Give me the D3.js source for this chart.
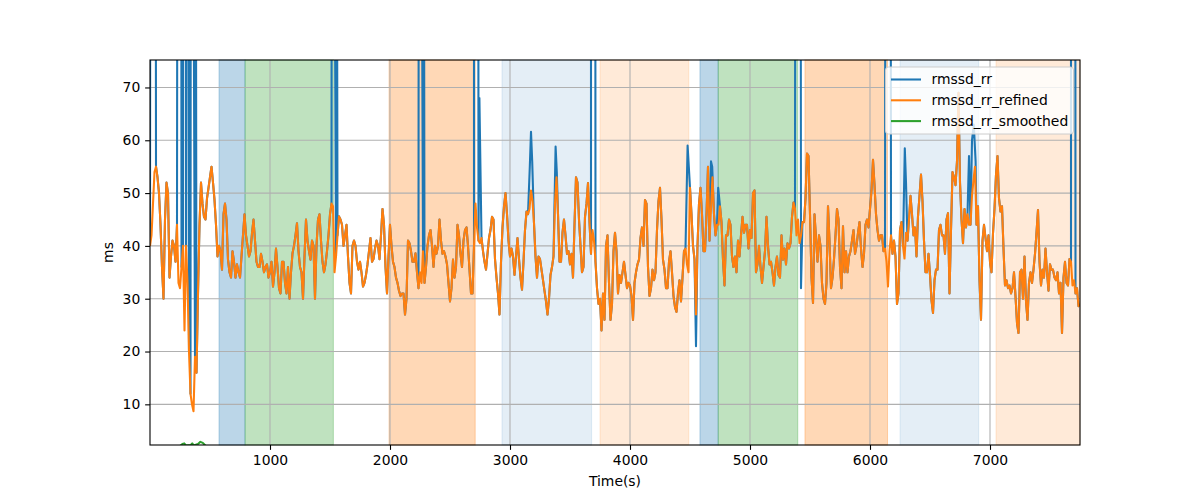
<!DOCTYPE html>
<html>
<head>
<meta charset="utf-8">
<script src="https://cdn.jsdelivr.net/npm/d3@7"></script>
<style>
  body { margin: 0; background: #fff; }
  text { font-family: "DejaVu Sans", sans-serif; }
</style>
</head>
<body>
<div id="chart"></div>
<script>
// refined series: one value every 12.5 s starting at t = 0
const sampleStart = 0;
const sampleStep = 12.5;
const refinedValues = [
  // 0 .. 1112 s
  40,42,48,54,55,53,50,44,36,30, 45,52,50,34,38,41,40,37,44,33, 32,36,40,24,40,33,20,12,10,8.7,
  19,16,31,44,52,48,45.5,45,49,51, 53,55,52,48.7,44,38,40,39,35.5,46, 48,45,37.4,35,34,39,37,34,36.5,35,
  34,38,42,46,42,40,38,39,42.4,45, 41,37,36,36,38.5,37,35,36,36.5,34, 35,37,32.3,35,39.5,36,32,31,37,37,
  // 1125 .. 2237 s
  33,31,36,30,35,38.6,40,42,44.3,39, 36,35,30,38,45,41,39,37.4,41,40, 30,40,45,46,41,37,35,36.5,39,42,
  46,48,47.5,35,38,42,45.6,45,44,40, 42,44,38,33,31,40,41,40,37,35.5, 37,35,32.3,33,34.5,36.5,39,41.5,37,37.5,
  39.5,41,40,37.5,42,47,44,36,31,38, 44,40,37,36,34,33,31.5,30.5,31,31, 27,30,41,40.5,39,37,37,38.6,35,32,
  // 2250 .. 3362 s
  35,33,39,33,36,40,42,43,40,36, 40,38.5,40,45,41,38.5,39,38,36.5,33, 29.5,32,37.4,34,36,44,42,38.5,36,41,
  43,43.5,40,35.5,31,31,40,48,43.5,41, 40.5,41.5,39,37,35.5,38.5,41.5,43,45.5,45, 37.5,34,31,27,37,43.5,47.5,50,46,41,
  38,39.5,38,34.5,38,41.5,37.5,34,31.7,37, 43,46.5,46,47,50.5,48.5,44.3,38,34,38, 37.5,35.5,33.5,31.5,29.5,27,30,34.5,36,38,
  // 3375 .. 4487 s
  48,53,46,37,37,42.5,45,42,38.5,39, 36.5,38.5,34,44,53,52,45,40,35,36, 45.5,48,51.9,44.5,38.5,43,41,37,32,29,
  30,24,31,26,40,42,33,26,29,39, 42.5,39,31,34.5,33,35,37,34.5,32,33, 32.5,30.5,26,33,35,36.5,37.4,41.5,43.5,40,
  48.7,48,36,30.5,32,35.5,33.5,35,43,48.5, 51,45,37.4,35.5,32,32,37,39,35,30.5, 28.4,27.5,31,33.5,29.5,34,39,39.5,36.5,35,
  // 4500 .. 5612 s
  51,46,40,37.5,27,40,48,51,46,39, 39,46,55,41,47,53,46,42,44,44, 47.5,44.5,37.4,32.5,42,42,45,44,38,36,
  38,35,41,38,42,45.5,42.5,44,44,39.5, 43,41.5,50,50.5,35,36.5,40,36,33,36, 39,45.5,40,36.5,37,35,32.5,36,38,34.5,
  34,42,37.4,39.5,36.5,40.5,39.5,40.5,45.5,48.2, 47,42,45,40.5,42,44.5,44.5,49,57.5,57, 46,34,29.2,46,41.5,37,42,40,33,30,
  // 5625 .. 6737 s
  29,33,47.5,41,32,34,37.5,42,47,45, 36,32,43.7,35,39,35,38,39,41,43, 38.5,40,42.4,44.5,39.5,36,38.5,44,45,43.5,
  47,50.5,56.3,51.5,46,43,41,42,42,39, 39.5,37,32.3,39,42,38.5,41,38,29,31, 43,44.5,40,37.6,42.5,41,45,49.5,46,42,
  43.5,38,45.6,49.5,53.5,48.5,41,35,35,38.5, 34.5,29.7,27.3,33.5,35.5,35.5,43,44,42,42, 38.5,45,46.2,31,43,54,53,51.5,56,69,
  // 6750 .. 7750 s
  52,45,40.5,47,43.5,46,44,44,49.5,52.5, 55,44,47.5,33.5,26,41,44,41.5,39,42, 37,35,42.4,47,53.5,57,49,46.5,47.5,39.5,
  32.5,33.5,32,32.5,31,32,35,30.5,25.4,23.5, 35,35.5,30,38,29.5,26,33,35,33,35.5, 38.5,42.5,46.8,37,32.5,35.5,34,39.5,35,31.5,
  36.5,35.5,35.5,34,33.5,35,31,33,23.5,34, 37,33,32.5,37.5,37,32.5,33.5,31,32,28.6, 29
];

// raw series: excursions far above the axis (start / end time, height)
const spikeStart  = [8, 233, 275, 308, 342, 1517, 2242, 2700, 3675, 5383, 6133, 7675];
const spikeEnd    = [42, 258, 292, 325, 375, 1550, 2275, 2733, 3708, 5417, 6167, 7708];
const spikeHeight = [260, 220, 240, 250, 230, 210, 240, 230, 220, 250, 230, 240];
// raw series: places where it leaves the refined curve but stays on the axis
const bumpTimes  = [2745, 3165, 3175, 3185, 3380, 3390, 4480, 4490, 4550, 4675, 4685, 4735, 5425, 6290, 6300, 6825, 6850, 6865, 6880];
const bumpValues = [68, 55, 61.6, 56, 58.8, 54, 59, 55, 21, 56, 55, 51, 32, 58.5, 52, 57, 60, 63, 56];

// smoothed series (mostly under the lower limit)
const smoothTimes  = [0, 100, 200, 250, 270, 285, 300, 340, 352, 365, 400, 420, 440, 470, 600, 1500, 3000, 4500, 6000, 7750];
const smoothValues = [1.2, 1.5, 1.9, 2.1, 2.5, 2.6, 2.2, 2.3, 2.6, 2.2, 2.5, 2.9, 2.7, 2.0, 1.6, 1.4, 1.3, 1.4, 1.3, 1.2];

// shaded phases
const phaseStart = [575, 792, 1992, 2933, 3750, 4583, 4735, 5458, 6250, 7050];
const phaseEnd   = [792, 1528, 2710, 3680, 4490, 4735, 5398, 6146, 6906, 7750];
const phaseKind  = ["A", "B", "C", "D", "E", "A", "B", "C", "D", "E"];

const xTicks = [1000, 2000, 3000, 4000, 5000, 6000, 7000];
const yTicks = [10, 20, 30, 40, 50, 60, 70];
const seriesNames = ["rmssd_rr", "rmssd_rr_refined", "rmssd_rr_smoothed"];

const phaseStyle = {
  A: { color: "#1f77b4", alpha: 0.3 },
  B: { color: "#2ca02c", alpha: 0.3 },
  C: { color: "#ff7f0e", alpha: 0.3 },
  D: { color: "#1f77b4", alpha: 0.12 },
  E: { color: "#ff7f0e", alpha: 0.16 }
};
const lineColors = ["#1f77b4", "#ff7f0e", "#2ca02c"];

const width = 1200, height = 500;
const margin = { top: 60, right: 120, bottom: 55, left: 150 };
const innerW = width - margin.left - margin.right;
const innerH = height - margin.top - margin.bottom;

const refined = refinedValues.map((v, i) => ({ t: sampleStart + i * sampleStep, v: v }));

// build raw series from refined + spikes + bumps
let raw = refined.filter(d => {
  for (let k = 0; k < spikeStart.length; k++) {
    if (d.t > spikeStart[k] && d.t < spikeEnd[k]) return false;
  }
  for (let k = 0; k < bumpTimes.length; k++) {
    if (Math.abs(d.t - bumpTimes[k]) < 6) return false;
  }
  return true;
});
spikeStart.forEach((s, k) => {
  raw.push({ t: s, v: spikeHeight[k] });
  raw.push({ t: spikeEnd[k], v: spikeHeight[k] });
});
bumpTimes.forEach((t, k) => raw.push({ t: t, v: bumpValues[k] }));
raw.sort((a, b) => a.t - b.t);

const smoothed = smoothTimes.map((t, i) => ({ t: t, v: smoothValues[i] }));

const x = d3.scaleLinear().domain([0, 7750]).range([0, innerW]);
const y = d3.scaleLinear().domain([2.3, 75.2]).range([innerH, 0]);

const svg = d3.select("#chart").append("svg")
    .attr("width", width)
    .attr("height", height);

svg.append("defs").append("clipPath")
    .attr("id", "plotclip")
  .append("rect")
    .attr("width", innerW)
    .attr("height", innerH);

const g = svg.append("g")
    .attr("transform", "translate(" + margin.left + "," + margin.top + ")");

// phase spans
g.append("g").attr("class", "phases")
  .selectAll("rect")
  .data(phaseStart.map((s, i) => ({ s: s, e: phaseEnd[i], k: phaseKind[i] })))
  .enter().append("rect")
    .attr("x", d => x(d.s))
    .attr("y", 0)
    .attr("width", d => x(d.e) - x(d.s))
    .attr("height", innerH)
    .style("fill", d => phaseStyle[d.k].color)
    .style("fill-opacity", d => phaseStyle[d.k].alpha)
    .style("stroke", d => phaseStyle[d.k].color)
    .style("stroke-opacity", d => phaseStyle[d.k].alpha)
    .style("stroke-width", 1);

// grid
const grid = g.append("g").attr("class", "grid");
grid.selectAll("line.gx")
  .data(xTicks).enter().append("line")
    .attr("class", "gx")
    .attr("x1", d => x(d)).attr("x2", d => x(d))
    .attr("y1", 0).attr("y2", innerH)
    .style("stroke", "#b0b0b0").style("stroke-width", 1.1);
grid.selectAll("line.gy")
  .data(yTicks).enter().append("line")
    .attr("class", "gy")
    .attr("x1", 0).attr("x2", innerW)
    .attr("y1", d => y(d)).attr("y2", d => y(d))
    .style("stroke", "#b0b0b0").style("stroke-width", 1.1);

// lines
const line = d3.line().x(d => x(d.t)).y(d => y(d.v));
const lines = g.append("g").attr("clip-path", "url(#plotclip)");
[raw, refined, smoothed].forEach((data, i) => {
  lines.append("path")
    .datum(data)
    .attr("d", line)
    .style("fill", "none")
    .style("stroke", lineColors[i])
    .style("stroke-width", 2.08)
    .style("stroke-linejoin", "round");
});

// axes
const xAxis = g.append("g")
    .attr("transform", "translate(0," + innerH + ")")
    .call(d3.axisBottom(x).tickValues(xTicks).tickSize(4.86).tickPadding(4.86).tickFormat(d3.format("d")));
const yAxis = g.append("g")
    .call(d3.axisLeft(y).tickValues(yTicks).tickSize(4.86).tickPadding(4.86).tickFormat(d3.format("d")));
[xAxis, yAxis].forEach(a => {
  a.select(".domain").remove();
  a.selectAll("line").style("stroke", "#000").style("stroke-width", 1.1);
  a.selectAll("text").style("font-size", "13.9px").style("fill", "#000").style("font-family", "DejaVu Sans");
});

// frame
g.append("rect")
    .attr("width", innerW)
    .attr("height", innerH)
    .style("fill", "none")
    .style("stroke", "#000")
    .style("stroke-width", 1.1);

// axis labels
g.append("text")
    .attr("x", innerW / 2)
    .attr("y", innerH + 41)
    .attr("text-anchor", "middle")
    .style("font-size", "13.9px")
    .text("Time(s)");
g.append("text")
    .attr("transform", "translate(" + (-37) + "," + (innerH / 2) + ")rotate(-90)")
    .attr("text-anchor", "middle")
    .style("font-size", "13.9px")
    .text("ms");

// legend
const legend = g.append("g")
    .attr("transform", "translate(" + (innerW - 194.5) + ",7)");
legend.append("rect")
    .attr("width", 188)
    .attr("height", 67)
    .attr("rx", 3)
    .style("fill", "#fff")
    .style("fill-opacity", 0.8)
    .style("stroke", "#cccccc")
    .style("stroke-width", 1);
seriesNames.forEach((name, i) => {
  const row = legend.append("g").attr("transform", "translate(0," + (12.5 + i * 20.8) + ")");
  row.append("line")
      .attr("x1", 5.5).attr("x2", 35.5)
      .style("stroke", lineColors[i])
      .style("stroke-width", 2.08);
  row.append("text")
      .attr("x", 46)
      .attr("dy", "0.35em")
      .style("font-size", "13.9px")
      .text(name);
});
</script>
</body>
</html>
